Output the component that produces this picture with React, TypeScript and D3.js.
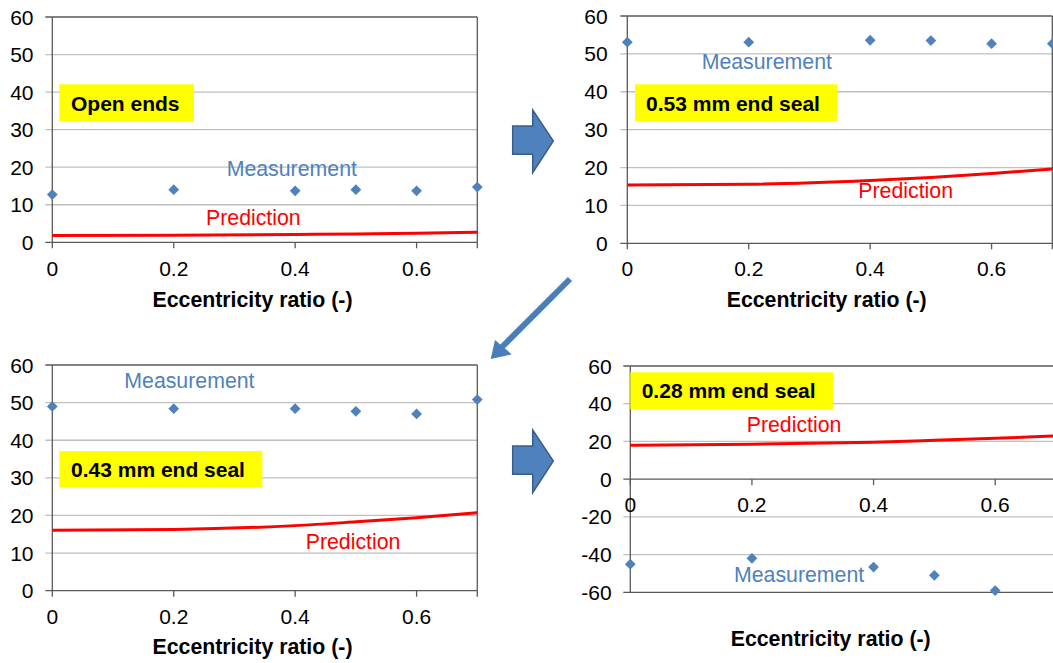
import React from "react";
import * as d3 from "d3";

// Eccentricity ratios at which the seal was tested
const ecc = [0, 0.2, 0.4, 0.5, 0.6, 0.7];
const eccSeal028 = [0, 0.2, 0.4, 0.5, 0.6];

// Measured and predicted values for each end configuration
const openMeas = [12.7, 14.0, 13.7, 14.0, 13.7, 14.7];
const openPred = [1.8, 1.9, 2.1, 2.2, 2.4, 2.7];
const seal053Meas = [53.1, 53.1, 53.6, 53.5, 52.7, 52.7];
const seal053Pred = [15.4, 15.6, 16.6, 17.4, 18.4, 19.6];
const seal043Meas = [49.0, 48.4, 48.4, 47.7, 47.0, 50.8];
const seal043Pred = [16.1, 16.3, 17.3, 18.3, 19.4, 20.7];
const seal028Meas = [-45.1, -42.0, -46.6, -51.0, -59.1];
const seal028Pred = [18.0, 18.5, 19.6, 20.6, 21.7, 22.9];

const xTicks = [0, 0.2, 0.4, 0.6];
const yTicksPos = [0, 10, 20, 30, 40, 50, 60];
const yTicksSym = [-60, -40, -20, 0, 20, 40, 60];

const panelLabels = ["Open ends", "0.53 mm end seal", "0.43 mm end seal", "0.28 mm end seal"];
const xTitle = "Eccentricity ratio (-)";
const measText = "Measurement";
const predText = "Prediction";

const FONT = "'Liberation Sans', Arial, sans-serif";
const BLUE = "#4F81BD";
const RED = "#FF0000";
const GRID = "#BFBFBF";
const AXIS = "#595959";

type Panel = {
  left: number; right: number; top: number; bottom: number;
  yDomain: [number, number]; yTicks: number[];
  measX: number[]; meas: number[]; pred: number[];
  label: string; box: [number, number, number, number]; boxTextX: number;
  measPos: [number, number]; predPos: [number, number];
  xLabelY: number; titleX: number; titleY: number; yLabelX: number;
};

const panels: Panel[] = [
  {
    left: 52.3, right: 477.3, top: 17, bottom: 242.3, yDomain: [0, 60], yTicks: yTicksPos,
    measX: ecc, meas: openMeas, pred: openPred, label: panelLabels[0],
    box: [59.3, 84.3, 134.7, 37.4], boxTextX: 71,
    measPos: [226.7, 176], predPos: [206, 225],
    xLabelY: 275.5, titleX: 252.5, titleY: 306.5, yLabelX: 33.5,
  },
  {
    left: 627.3, right: 1052.3, top: 16, bottom: 243.3, yDomain: [0, 60], yTicks: yTicksPos,
    measX: ecc, meas: seal053Meas, pred: seal053Pred, label: panelLabels[1],
    box: [635, 84.3, 202.3, 37.4], boxTextX: 646,
    measPos: [701.7, 69.3], predPos: [858.3, 198.3],
    xLabelY: 275.5, titleX: 826.7, titleY: 306.7, yLabelX: 607.7,
  },
  {
    left: 52.3, right: 477.3, top: 365, bottom: 590.7, yDomain: [0, 60], yTicks: yTicksPos,
    measX: ecc, meas: seal043Meas, pred: seal043Pred, label: panelLabels[2],
    box: [59.3, 451, 203, 36.3], boxTextX: 71,
    measPos: [124.3, 388.3], predPos: [305.7, 549],
    xLabelY: 623.5, titleX: 252.5, titleY: 654, yLabelX: 33.5,
  },
  {
    left: 630.3, right: 1056, top: 366, bottom: 592.3, yDomain: [-60, 60], yTicks: yTicksSym,
    measX: eccSeal028, meas: seal028Meas, pred: seal028Pred, label: panelLabels[3],
    box: [630.3, 372.3, 203, 36.7], boxTextX: 641.7,
    measPos: [734, 582.3], predPos: [746.7, 431.7],
    xLabelY: 511.5, titleX: 830.7, titleY: 645.7, yLabelX: 611.7,
  },
];

const diamond = d3.symbol(d3.symbolSquare, 58)();

function ChartPanel({ p }: { p: Panel }) {
  const x = d3.scaleLinear().domain([0, 0.7]).range([p.left, p.right]);
  const y = d3.scaleLinear().domain(p.yDomain).range([p.bottom, p.top]);
  const line = d3
    .line<number>()
    .x((_, i) => x(ecc[i]))
    .y((d) => y(d))
    .curve(d3.curveMonotoneX);
  const y0 = y(Math.max(0, p.yDomain[0]));
  return (
    <g>
      {p.yTicks.map((t) => (
        <g key={t}>
          <line x1={p.left - 7} x2={p.right} y1={y(t)} y2={y(t)}
            stroke={t === p.yDomain[0] || t === p.yDomain[1] || t === 0 ? AXIS : GRID}
            strokeWidth={1.3} />
          <text x={p.yLabelX} y={y(t)} dy="0.36em" textAnchor="end" fontSize={21}
            fontFamily={FONT} fill="#000">{t}</text>
        </g>
      ))}
      <line x1={p.left} x2={p.left} y1={p.top} y2={p.bottom} stroke={AXIS} strokeWidth={1.3} />
      <line x1={p.right} x2={p.right} y1={p.top} y2={p.bottom} stroke={AXIS} strokeWidth={1.3} />
      {xTicks.map((t) => (
        <g key={t}>
          <line x1={x(t)} x2={x(t)} y1={y0} y2={y0 + 6} stroke={AXIS} strokeWidth={1.3} />
          <text x={x(t)} y={p.xLabelY} textAnchor="middle" fontSize={21} fontFamily={FONT}
            fill="#000">{t}</text>
        </g>
      ))}
      <line x1={x(0.7)} x2={x(0.7)} y1={y0} y2={y0 + 6} stroke={AXIS} strokeWidth={1.3} />
      <rect x={p.box[0]} y={p.box[1]} width={p.box[2]} height={p.box[3]} fill="#FFFF00" />
      <text x={p.boxTextX} y={p.box[1] + p.box[3] / 2} dy="0.36em" fontSize={21}
        fontWeight="bold" fontFamily={FONT} fill="#000">{p.label}</text>
      <path d={line(p.pred) ?? ""} fill="none" stroke={RED} strokeWidth={3} />
      {p.meas.map((v, i) => (
        <path key={i} d={diamond ?? ""}
          transform={`translate(${x(p.measX[i])},${y(v)}) rotate(45)`} fill={BLUE} />
      ))}
      <text x={p.measPos[0]} y={p.measPos[1]} fontSize={21.3} fontFamily={FONT} fill={BLUE}>
        {measText}
      </text>
      <text x={p.predPos[0]} y={p.predPos[1]} fontSize={21.3} fontFamily={FONT} fill={RED}>
        {predText}
      </text>
      <text x={p.titleX} y={p.titleY} textAnchor="middle" fontSize={21.3} fontWeight="bold"
        fontFamily={FONT} fill="#000">{xTitle}</text>
    </g>
  );
}

function BlockArrow({ dy }: { dy: number }) {
  const pts: [number, number][] = [
    [512.7, 126], [532.7, 126], [532.7, 110], [553.3, 141],
    [532.7, 172.7], [532.7, 154.3], [512.7, 154.3],
  ];
  return (
    <polygon points={pts.map(([a, b]) => `${a},${b + dy}`).join(" ")}
      fill="#4F81BD" stroke="#385D8A" strokeWidth={1.5} strokeLinejoin="miter" />
  );
}

export default function App() {
  return (
    <svg width={1053} height={663}
      style={{ position: "absolute", left: 0, top: 0, background: "#fff", display: "block" }}>
      <rect width={1053} height={663} fill="#fff" />
      {panels.map((p, i) => (
        <ChartPanel key={i} p={p} />
      ))}
      <BlockArrow dy={0} />
      <BlockArrow dy={320} />
      <line x1={570} y1={279} x2={502} y2={347} stroke="#4A7EBB" strokeWidth={6} />
      <polygon points="490.7,359 495,340 511.7,354.3" fill="#4A7EBB" />
    </svg>
  );
}
